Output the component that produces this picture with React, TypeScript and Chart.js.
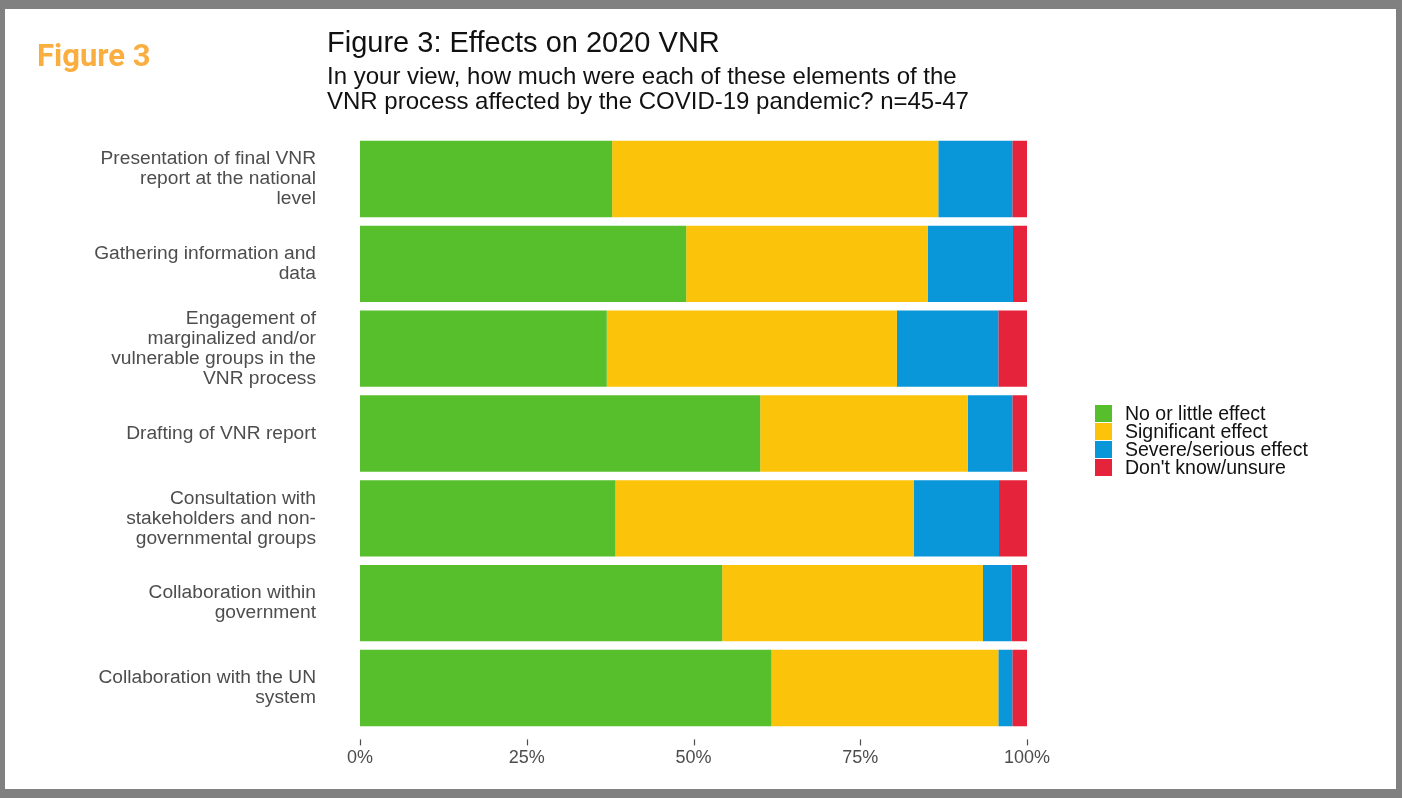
import React, { useEffect, useRef } from "react";
import { Chart, registerables } from "chart.js";

Chart.register(...registerables);

const categories: (string | string[])[] = [
  ["Presentation of final VNR", "report at the national", "level"],
  ["Gathering information and", "data"],
  ["Engagement of", "marginalized and/or", "vulnerable groups in the", "VNR process"],
  "Drafting of VNR report",
  ["Consultation with", "stakeholders and non-", "governmental groups"],
  ["Collaboration within", "government"],
  ["Collaboration with the UN", "system"],
];

const noLittle = [37.8, 48.9, 37.0, 60.0, 38.3, 54.3, 61.7];
const significant = [48.9, 36.2, 43.5, 31.1, 44.7, 39.1, 34.0];
const severe = [11.1, 12.8, 15.2, 6.7, 12.8, 4.3, 2.1];
const dontKnow = [2.2, 2.1, 4.3, 2.2, 4.2, 2.3, 2.2];

const seriesNames = ["No or little effect", "Significant effect", "Severe/serious effect", "Don't know/unsure"];
const seriesColors = ["#58BF2C", "#FCC30B", "#0A97D9", "#E5243B"];
const xTicks = [0, 25, 50, 75, 100];

const FONT = "'Liberation Sans', Arial, sans-serif";

const tickMarks = {
  id: "tickMarks",
  afterDraw(chart: any) {
    const x = chart.scales.x;
    const ctx = chart.ctx;
    const b = chart.chartArea.bottom;
    ctx.save();
    ctx.strokeStyle = "#4d4d4d";
    ctx.lineWidth = 1.2;
    xTicks.forEach((v) => {
      const px = Math.round(x.getPixelForValue(v)) + 0.5;
      ctx.beginPath();
      ctx.moveTo(px, b + 9);
      ctx.lineTo(px, b + 15);
      ctx.stroke();
    });
    ctx.restore();
  },
};

export default function App() {
  const ref = useRef<HTMLCanvasElement>(null);
  useEffect(() => {
    if (!ref.current) return;
    const data = [noLittle, significant, severe, dontKnow];
    const chart = new Chart(ref.current, {
      type: "bar",
      data: {
        labels: categories,
        datasets: data.map((d, i) => ({
          label: seriesNames[i],
          data: d,
          backgroundColor: seriesColors[i],
          borderWidth: 0,
          categoryPercentage: 0.9,
          barPercentage: 1.0,
        })),
      },
      options: {
        indexAxis: "y",
        animation: false,
        responsive: false,
        maintainAspectRatio: false,
        layout: { padding: { left: 0, right: 375, top: 136.6, bottom: 27.6 } },
        plugins: { legend: { display: false }, tooltip: { enabled: false }, title: { display: false } },
        scales: {
          x: {
            stacked: true,
            min: 0,
            max: 100,
            afterFit: (s: any) => {
              s.height = 40;
            },
            afterBuildTicks: (s: any) => {
              s.ticks = xTicks.map((v) => ({ value: v }));
            },
            grid: { display: false, drawTicks: false },
            border: { display: false },
            ticks: {
              padding: 17,
              color: "#4d4d4d",
              font: { family: FONT, size: 18 },
              callback: (v: any) => v + "%",
            },
          },
          y: {
            stacked: true,
            afterFit: (s: any) => {
              s.width = 360;
              s.paddingTop = 0;
              s.paddingBottom = 0;
            },
            grid: { display: false, drawTicks: false },
            border: { display: false },
            ticks: {
              padding: 44,
              color: "#4d4d4d",
              font: { family: FONT, size: 19.2, lineHeight: 1.04 },
            },
          },
        },
      },
      plugins: [tickMarks],
    });
    return () => chart.destroy();
  }, []);

  return (
    <div style={{ position: "fixed", left: 0, top: 0, width: 1402, height: 798, background: "#808080", overflow: "hidden" }}>
      <div style={{ position: "absolute", left: 5, top: 9, width: 1391, height: 780, background: "#ffffff" }} />
      <canvas ref={ref} width={1402} height={798} style={{ position: "absolute", left: 0, top: 0, width: 1402, height: 798 }} />
      <div style={{ position: "absolute", left: 37, top: 37, fontFamily: "Roboto, sans-serif", fontWeight: 700, fontSize: 31, lineHeight: "38px", color: "#FBAE40", whiteSpace: "nowrap" }}>
        Figure 3
      </div>
      <div style={{ position: "absolute", left: 327, top: 24, fontFamily: FONT, fontSize: 29, lineHeight: "36px", color: "#111", whiteSpace: "nowrap" }}>
        Figure 3: Effects on 2020 VNR
      </div>
      <div style={{ position: "absolute", left: 327, top: 63, fontFamily: FONT, fontSize: 24, lineHeight: "25px", color: "#111", whiteSpace: "nowrap" }}>
        In your view, how much were each of these elements of the
        <br />
        VNR process affected by the COVID-19 pandemic? n=45-47
      </div>
      <div style={{ position: "absolute", left: 1095, top: 404, fontFamily: FONT, fontSize: 19.5, color: "#111" }}>
        {seriesNames.map((n, i) => (
          <div key={n} style={{ display: "flex", alignItems: "center", height: 18 }}>
            <div style={{ width: 17, height: 17, background: seriesColors[i], marginRight: 13 }} />
            <span style={{ lineHeight: "18px", whiteSpace: "nowrap" }}>{n}</span>
          </div>
        ))}
      </div>
    </div>
  );
}
